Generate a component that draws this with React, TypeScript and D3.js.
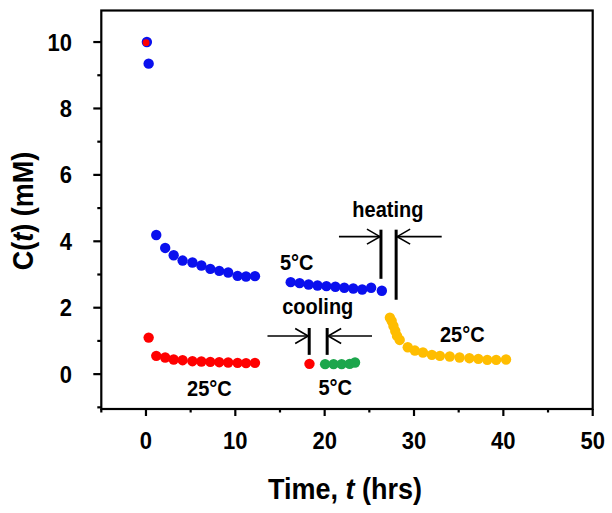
import React from "react";
import * as d3 from "d3";

const W = 612;
const H = 513;

// Data series (time in hrs, concentration in mM)
const blueT1 = [0.1, 0.3, 1.15, 2.15, 3.1, 4.1, 5.2, 6.2, 7.2, 8.2, 9.2, 10.25, 11.2, 12.2];
const blueC1 = [10.0, 9.35, 4.19, 3.8, 3.58, 3.42, 3.36, 3.27, 3.17, 3.11, 3.06, 2.96, 2.94, 2.95];
const blueT2 = [16.2, 17.2, 18.2, 19.2, 20.2, 21.2, 22.2, 23.2, 24.2, 25.2, 26.4];
const blueC2 = [2.77, 2.74, 2.7, 2.67, 2.65, 2.63, 2.6, 2.58, 2.55, 2.6, 2.51];
const redT1 = [0.1, 0.3, 1.15, 2.15, 3.1, 4.1, 5.2, 6.2, 7.2, 8.2, 9.2, 10.25, 11.2, 12.2];
const redC1 = [9.98, 1.1, 0.55, 0.5, 0.44, 0.42, 0.39, 0.38, 0.37, 0.36, 0.35, 0.34, 0.33, 0.34];
const redT2 = [18.3];
const redC2 = [0.31];
const greenT = [20.05, 21.0, 21.9, 22.8, 23.4];
const greenC = [0.3, 0.3, 0.3, 0.31, 0.35];
const goldT = [27.3, 27.5, 27.7, 27.9, 28.1, 28.4, 29.3, 30.1, 31.0, 32.0, 32.9, 34.0, 35.1, 36.2, 37.2, 38.2, 39.2, 40.3];
const goldC = [1.7, 1.6, 1.45, 1.3, 1.15, 1.03, 0.81, 0.71, 0.65, 0.58, 0.55, 0.53, 0.5, 0.48, 0.46, 0.43, 0.43, 0.44];

const xTicks = [0, 10, 20, 30, 40, 50];
const xMinor = [-5, 5, 15, 25, 35, 45];
const yTicks = [0, 2, 4, 6, 8, 10];
const yMinor = [-1, 1, 3, 5, 7, 9];

const BLUE = "#0a10ee";
const RED = "#ff0000";
const GREEN = "#1ca64c";
const GOLD = "#ffbd00";
const FONT = "'Liberation Sans', Arial, sans-serif";
const SY = 1.1; // vertical stretch of text as in the reference

export default function App() {
  const x = d3.scaleLinear().domain([-5, 50]).range([101.3, 592.7]);
  const y = d3.scaleLinear().domain([-1.05, 10.95]).range([409, 10.5]);
  const r = 5.2;

  const series = (ts: number[], cs: number[], color: string, rad = r) =>
    ts.map((t, i) => (
      <circle key={color + i} cx={x(t)} cy={y(cs[i])} r={rad} fill={color} />
    ));

  const arrowHead = (tipX: number, tipY: number, dir: number) => {
    const len = 13;
    const half = 7.5;
    return (
      <path
        d={`M${tipX - dir * len},${tipY - half} L${tipX},${tipY} L${tipX - dir * len},${tipY + half}`}
        fill="none"
        stroke="#000"
        strokeWidth={1.6}
      />
    );
  };

  const sText = (
    px: number,
    py: number,
    content: React.ReactNode,
    size: number,
    anchor: string = "start",
    key?: string
  ) => (
    <text
      key={key}
      transform={`translate(${px},${py}) scale(1,${SY})`}
      textAnchor={anchor}
      fontSize={size}
      fontWeight="bold"
      fontFamily={FONT}
      fill="#000"
    >
      {content}
    </text>
  );

  const label = (t: string, xv: number, yv: number, size = 20) => sText(x(xv), y(yv), t, size);

  // annotation geometry in data units
  const hL = 26.3, hR = 28.0, hTop = 4.35, hB1 = 2.87, hB2 = 2.24, hY = 4.14, hS = 21.6, hE = 33.1;
  const cL = 18.27, cR = 20.28, cTop = 1.39, cB = 0.58, cY = 1.15, cS = 13.6, cE = 25.3;

  return (
    <svg width={W} height={H} style={{ position: "absolute", left: 0, top: 0, background: "#fff" }}>
      <rect x={0} y={0} width={W} height={H} fill="#fff" />
      {/* frame */}
      <rect x={x(-5)} y={y(10.95)} width={x(50) - x(-5)} height={y(-1.05) - y(10.95)} fill="none" stroke="#000" strokeWidth={2.2} />
      {/* x ticks */}
      {xTicks.map((t) => (
        <g key={"xt" + t}>
          <line x1={x(t)} x2={x(t)} y1={y(-1.05)} y2={y(-1.05) + 7} stroke="#000" strokeWidth={2.2} />
          {sText(x(t), 449, String(t), 22, "middle")}
        </g>
      ))}
      {xMinor.map((t) => (
        <line key={"xm" + t} x1={x(t)} x2={x(t)} y1={y(-1.05)} y2={y(-1.05) + 3.5} stroke="#000" strokeWidth={2.2} />
      ))}
      {/* y ticks */}
      {yTicks.map((v) => (
        <g key={"yt" + v}>
          <line x1={x(-5) - 8} x2={x(-5)} y1={y(v)} y2={y(v)} stroke="#000" strokeWidth={2.2} />
          {sText(72, y(v) + 8.5, String(v), 22, "end")}
        </g>
      ))}
      {yMinor.map((v) => (
        <line key={"ym" + v} x1={x(-5) - 4} x2={x(-5)} y1={y(v)} y2={y(v)} stroke="#000" strokeWidth={2.2} />
      ))}
      {/* axis titles */}
      {sText(345, 499, <>Time, <tspan fontStyle="italic">t</tspan> (hrs)</>, 27, "middle")}
      <text
        transform={`translate(33,211) rotate(-90) scale(1,${SY})`}
        textAnchor="middle"
        fontSize={27}
        fontWeight="bold"
        fontFamily={FONT}
      >
        C(<tspan fontStyle="italic">t</tspan>) (mM)
      </text>

      {/* data */}
      {series(blueT1, blueC1, BLUE)}
      {series(blueT2, blueC2, BLUE)}
      {series(goldT, goldC, GOLD)}
      {series(redT1.slice(1), redC1.slice(1), RED)}
      <circle cx={x(redT1[0]) - 0.8} cy={y(redC1[0])} r={3.4} fill={RED} />
      {series(redT2, redC2, RED)}
      {series(greenT, greenC, GREEN)}

      {/* heating annotation */}
      <line x1={x(hL)} x2={x(hL)} y1={y(hTop)} y2={y(hB1)} stroke="#000" strokeWidth={3} />
      <line x1={x(hR)} x2={x(hR)} y1={y(hTop)} y2={y(hB2)} stroke="#000" strokeWidth={3} />
      <line x1={x(hS)} x2={x(hL) - 1} y1={y(hY)} y2={y(hY)} stroke="#000" strokeWidth={1.6} />
      {arrowHead(x(hL) - 1, y(hY), 1)}
      <line x1={x(hE)} x2={x(hR) + 1} y1={y(hY)} y2={y(hY)} stroke="#000" strokeWidth={1.6} />
      {arrowHead(x(hR) + 1, y(hY), -1)}

      {/* cooling annotation */}
      <line x1={x(cL)} x2={x(cL)} y1={y(cTop)} y2={y(cB)} stroke="#000" strokeWidth={3} />
      <line x1={x(cR)} x2={x(cR)} y1={y(cTop)} y2={y(cB)} stroke="#000" strokeWidth={3} />
      <line x1={x(cS)} x2={x(cL) - 1} y1={y(cY)} y2={y(cY)} stroke="#000" strokeWidth={1.6} />
      {arrowHead(x(cL) - 1, y(cY), 1)}
      <line x1={x(cE)} x2={x(cR) + 1} y1={y(cY)} y2={y(cY)} stroke="#000" strokeWidth={1.6} />
      {arrowHead(x(cR) + 1, y(cY), -1)}

      {/* labels */}
      {label("heating", 23.1, 4.74)}
      {label("5°C", 15.0, 3.14)}
      {label("cooling", 15.25, 1.82)}
      {label("25°C", 32.9, 0.97)}
      {label("25°C", 4.6, -0.65)}
      {label("5°C", 19.3, -0.62)}
    </svg>
  );
}
